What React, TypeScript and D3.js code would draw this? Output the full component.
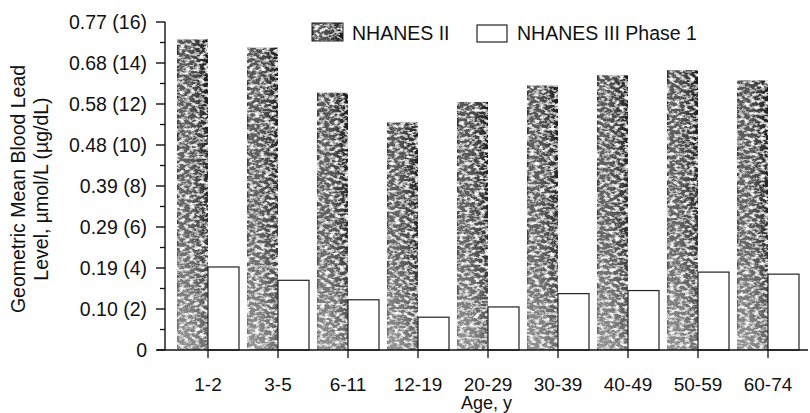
import React from "react";
import * as d3 from "d3";

const categories = ["1-2", "3-5", "6-11", "12-19", "20-29", "30-39", "40-49", "50-59", "60-74"];
const seriesNames = ["NHANES II", "NHANES III Phase 1"];
const nhanes2 = [15.15, 14.75, 12.55, 11.1, 12.1, 12.9, 13.4, 13.65, 13.15];
const nhanes3 = [4.05, 3.4, 2.45, 1.6, 2.1, 2.75, 2.9, 3.8, 3.7];
const yTickValues = [0, 2, 4, 6, 8, 10, 12, 14, 16];
const yTickLabels = ["0", "0.10 (2)", "0.19 (4)", "0.29 (6)", "0.39 (8)", "0.48 (10)", "0.58 (12)", "0.68 (14)", "0.77 (16)"];
const yMinorValues = [1, 3, 5, 7, 9, 11, 13, 15];
const yTitleLines = ["Geometric Mean Blood Lead", "Level, \u00b5mol/L (\u00b5g/dL)"];
const xTitle = "Age, y";

const W = 810;
const H = 413;
const FONT = "'Liberation Sans', Arial, Helvetica, sans-serif";
const INK = "#111";

export default function App() {
  const axisX = 165;
  const y = d3.scaleLinear().domain([0, 16]).range([350, 22]);
  const x = d3.scaleBand<string>().domain(categories).range([173, 803]).paddingInner(0).paddingOuter(0);
  const inner = d3.scaleBand<string>().domain(seriesNames).range([0, 62]);
  const center = (c: string) => (x(c) ?? 0) + x.bandwidth() / 2;
  const y0 = y(0);

  return (
    <svg width={W} height={H} style={{ position: "absolute", left: 0, top: 0, background: "#fff" }} fontFamily={FONT}>
      <defs>
        <linearGradient id="darkH" x1="0" x2="1" y1="0" y2="0">
          <stop offset="0%" stopColor="#1e1e1e" />
          <stop offset="6%" stopColor="#5a5a5a" />
          <stop offset="45%" stopColor="#505050" />
          <stop offset="80%" stopColor="#303030" />
          <stop offset="100%" stopColor="#161616" />
        </linearGradient>
        <linearGradient id="fadeV" x1="0" x2="0" y1="0" y2="1">
          <stop offset="0%" stopColor="#fff" stopOpacity={0} />
          <stop offset="60%" stopColor="#fff" stopOpacity={0.1} />
          <stop offset="100%" stopColor="#fff" stopOpacity={0.35} />
        </linearGradient>
        <filter id="grain" x="0" y="0" width="100%" height="100%">
          <feTurbulence type="fractalNoise" baseFrequency="0.2 0.32" numOctaves={3} seed={7} result="noise" />
          <feColorMatrix
            in="noise"
            type="matrix"
            values="0 0 0 0 1  0 0 0 0 1  0 0 0 0 1  3.2 0 0 0 -1.45"
            result="white"
          />
          <feComposite in="white" in2="SourceGraphic" operator="in" result="specks" />
          <feMerge>
            <feMergeNode in="SourceGraphic" />
            <feMergeNode in="specks" />
          </feMerge>
        </filter>
      </defs>

      {/* bars */}
      {categories.map((c, i) => {
        const cx = center(c);
        const bx = cx - 31 + (inner(seriesNames[0]) ?? 0);
        const wx = cx - 31 + (inner(seriesNames[1]) ?? 0);
        const bw = inner.bandwidth();
        return (
          <g key={c}>
            <g filter="url(#grain)">
              <rect x={bx} y={y(nhanes2[i])} width={bw} height={y0 - y(nhanes2[i])} fill="url(#darkH)" />
              <rect x={bx} y={y(nhanes2[i])} width={bw} height={y0 - y(nhanes2[i])} fill="url(#fadeV)" />
            </g>
            <rect
              x={wx}
              y={y(nhanes3[i])}
              width={bw}
              height={y0 - y(nhanes3[i])}
              fill="#fff"
              stroke="#222"
              strokeWidth={1.2}
            />
          </g>
        );
      })}

      {/* y axis */}
      <line x1={axisX} x2={axisX} y1={y(16)} y2={y0} stroke={INK} strokeWidth={1.4} />
      {yTickValues.map((v, i) => (
        <g key={v}>
          <line x1={axisX - 9} x2={axisX} y1={y(v)} y2={y(v)} stroke={INK} strokeWidth={1.4} />
          <text x={147} y={y(v)} dy="0.35em" textAnchor="end" fontSize={19.5} fill={INK}>
            {yTickLabels[i]}
          </text>
        </g>
      ))}
      {yMinorValues.map((v) => (
        <line key={v} x1={axisX - 5} x2={axisX} y1={y(v)} y2={y(v)} stroke={INK} strokeWidth={1.3} />
      ))}

      {/* x axis */}
      <line x1={157} x2={808} y1={y0} y2={y0} stroke={INK} strokeWidth={1.6} />
      {categories.map((c) => (
        <g key={c}>
          <line x1={center(c)} x2={center(c)} y1={y0} y2={y0 + 8} stroke={INK} strokeWidth={1.3} />
          <text x={center(c)} y={391} textAnchor="middle" fontSize={19} fill={INK}>
            {c}
          </text>
        </g>
      ))}
      <text x={(axisX + 808) / 2} y={409} textAnchor="middle" fontSize={18} fill={INK}>
        {xTitle}
      </text>

      {/* y title */}
      <g transform={`translate(25, ${(y(16) + y0) / 2 + 3}) rotate(-90)`}>
        <text x={0} y={0} textAnchor="middle" fontSize={19.5} fill={INK}>
          {yTitleLines[0]}
        </text>
        <text x={0} y={23} textAnchor="middle" fontSize={19.5} fill={INK}>
          {yTitleLines[1]}
        </text>
      </g>

      {/* legend */}
      <g filter="url(#grain)">
        <rect x={312} y={23} width={31} height={18} fill="url(#darkH)" />
      </g>
      <rect x={312} y={23} width={31} height={18} fill="none" stroke="#222" strokeWidth={1} />
      <text x={352} y={40} fontSize={19.5} fill={INK}>
        {seriesNames[0]}
      </text>
      <rect x={477} y={25} width={30} height={17} fill="#fff" stroke="#222" strokeWidth={1.2} />
      <text x={517} y={40} fontSize={19.5} fill={INK}>
        {seriesNames[1]}
      </text>
    </svg>
  );
}
